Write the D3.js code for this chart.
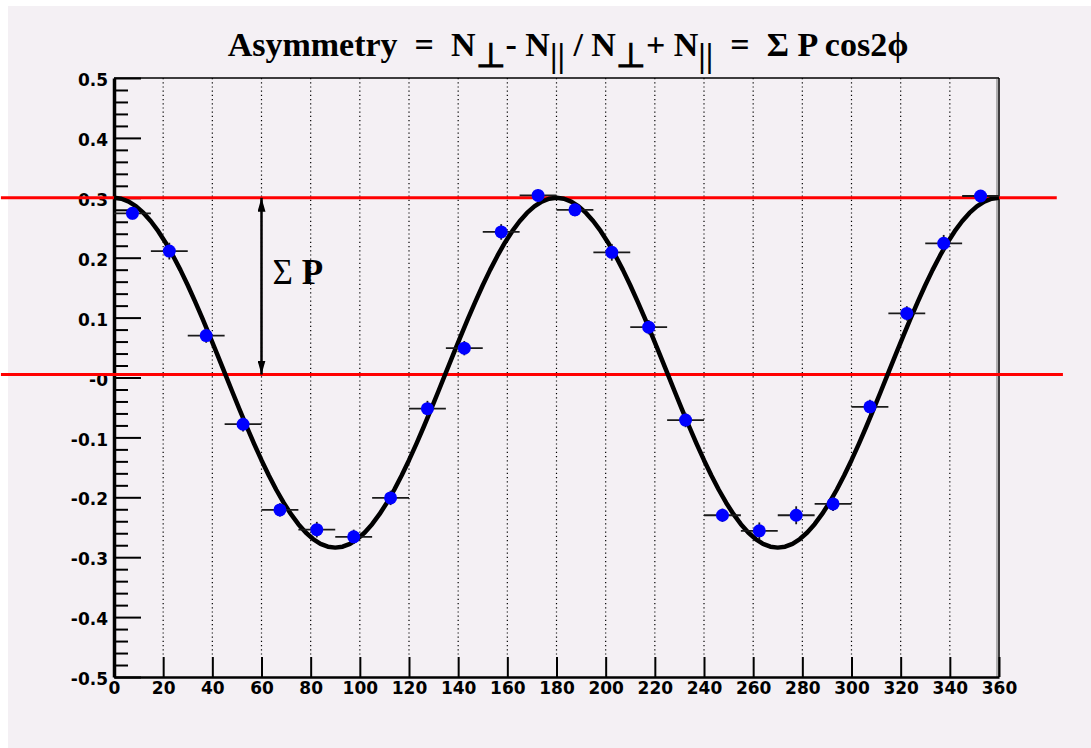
<!DOCTYPE html>
<html>
<head>
<meta charset="utf-8">
<script src="https://cdn.jsdelivr.net/npm/d3@7"></script>
<style>
  body { margin: 0; background: #fff; }
</style>
</head>
<body>
<div id="chart"></div>
<script>
var w = 1091;
var h = 748;

// *** data ***
var binCentres = [7.5, 22.5, 37.5, 52.5, 67.5, 82.5, 97.5, 112.5, 127.5, 142.5, 157.5, 172.5,
                  187.5, 202.5, 217.5, 232.5, 247.5, 262.5, 277.5, 292.5, 307.5, 322.5, 337.5, 352.5];
var asymmetry = [0.274, 0.211, 0.070, -0.078, -0.221, -0.254, -0.266, -0.201, -0.052, 0.049, 0.243, 0.304,
                 0.280, 0.209, 0.084, -0.071, -0.230, -0.256, -0.230, -0.211, -0.049, 0.107, 0.224, 0.303];
var asymErr = [0.010, 0.014, 0.012, 0.012, 0.011, 0.013, 0.012, 0.012, 0.013, 0.012, 0.013, 0.010,
               0.011, 0.014, 0.012, 0.012, 0.011, 0.014, 0.015, 0.012, 0.012, 0.012, 0.014, 0.010];
var binHalfWidth = 7.5;

var xTicks = [0, 20, 40, 60, 80, 100, 120, 140, 160, 180, 200, 220, 240, 260, 280, 300, 320, 340, 360];
var yTicks = [0.5, 0.4, 0.3, 0.2, 0.1, 0, -0.1, -0.2, -0.3, -0.4, -0.5];
var yTickLabels = ["0.5", "0.4", "0.3", "0.2", "0.1", "-0", "-0.1", "-0.2", "-0.3", "-0.4", "-0.5"];

// fit: offset + amplitude * cos(2 phi)
var fitOffset = 0.008, fitAmplitude = 0.292;

// red reference lines (level, x start, x end in degrees)
var refLevels = [0.3, 0.005];
var refFrom = [-46, -46];
var refTo = [383.5, 386];

// sigma P arrow
var arrowAt = 60, arrowTop = 0.3, arrowBottom = 0.005;
// **************************

var svg = d3.select("#chart")
    .append("svg")
    .attr("width", w)
    .attr("height", h);

svg.append("rect")
    .attr("x", 8).attr("y", 6)
    .attr("width", w - 8).attr("height", h - 6)
    .attr("fill", "#f4f0f4");

var margin = {top: 78, right: 92, bottom: 71, left: 114},
    width = w - margin.left - margin.right,
    height = h - margin.top - margin.bottom;

var x = d3.scaleLinear().domain([0, 360]).range([0, width]),
    y = d3.scaleLinear().domain([-0.5, 0.5]).range([height, 0]);

var g = svg.append("g")
    .attr("transform", "translate(" + margin.left + "," + margin.top + ")");

// arrow heads
var defs = svg.append("defs");
defs.append("marker")
    .attr("id", "head")
    .attr("viewBox", "0 0 14 8")
    .attr("refX", 14).attr("refY", 4)
    .attr("markerWidth", 14).attr("markerHeight", 8)
    .attr("markerUnits", "userSpaceOnUse")
    .attr("orient", "auto-start-reverse")
  .append("path")
    .attr("d", "M0,0 L14,4 L0,8 Z")
    .attr("fill", "#000");

// dotted vertical grid
g.selectAll(".grid")
  .data(xTicks.filter(function(d) { return d > 0 && d < 360; }))
  .enter().append("line")
    .attr("class", "grid")
    .attr("x1", function(d) { return x(d); })
    .attr("x2", function(d) { return x(d); })
    .attr("y1", 0)
    .attr("y2", height - 20)
    .attr("stroke", "#000")
    .attr("stroke-width", 1.2)
    .attr("stroke-dasharray", "1.2,3");

// frame top and right
g.append("line")
    .attr("x1", 0).attr("x2", width).attr("y1", 0).attr("y2", 0)
    .attr("stroke", "#000").attr("stroke-width", 1.5);
g.append("line")
    .attr("x1", width - 2).attr("x2", width - 2).attr("y1", 1).attr("y2", height)
    .attr("stroke", "#999").attr("stroke-width", 1.5);
g.append("line")
    .attr("x1", width).attr("x2", width).attr("y1", 0).attr("y2", height)
    .attr("stroke", "#000").attr("stroke-width", 1.5);

// x axis
var xAxis = g.append("g")
    .attr("class", "axis axis--x")
    .attr("transform", "translate(0," + height + ")")
    .call(d3.axisBottom(x).tickValues(xTicks).tickSizeInner(-20).tickSizeOuter(0).tickPadding(5));

// y axis: minor then major
g.append("g")
    .attr("class", "axis axis--y-minor")
    .call(d3.axisLeft(y)
      .tickValues(d3.range(-25, 26).map(function(i) { return i / 50; })
        .filter(function(v) { return Math.abs(Math.round(v * 10) - v * 10) > 1e-6; }))
      .tickSizeInner(-14).tickSizeOuter(0).tickFormat(""));

var yAxis = g.append("g")
    .attr("class", "axis axis--y")
    .call(d3.axisLeft(y).tickValues(yTicks).tickSizeInner(-27).tickSizeOuter(0).tickPadding(6)
      .tickFormat(function(d, i) { return yTickLabels[i]; }));

svg.selectAll(".axis text")
    .attr("fill", "#000")
    .style("font-family", "'DejaVu Sans', sans-serif")
    .style("font-weight", "bold")
    .style("font-size", "17px");
yAxis.selectAll("text").attr("dy", "0.45em");
svg.selectAll(".axis line").attr("stroke", "#000").attr("stroke-width", 2);
xAxis.select(".domain").attr("stroke", "#000").attr("stroke-width", 2.5);
yAxis.select(".domain").attr("stroke", "#000").attr("stroke-width", 3.5);
svg.selectAll(".axis--y-minor .domain").remove();

// red reference lines
g.selectAll(".ref")
  .data(refLevels)
  .enter().append("line")
    .attr("class", "ref")
    .attr("x1", function(d, i) { return x(refFrom[i]); })
    .attr("x2", function(d, i) { return x(refTo[i]); })
    .attr("y1", function(d) { return y(d); })
    .attr("y2", function(d) { return y(d); })
    .attr("stroke", "#ff0000")
    .attr("stroke-width", 3);

// fit curve
var curvePts = d3.range(0, 361, 3).map(function(p) {
  return [p, fitOffset + fitAmplitude * Math.cos(2 * p * Math.PI / 180)];
});
g.append("path")
    .datum(curvePts)
    .attr("fill", "none")
    .attr("stroke", "#000")
    .attr("stroke-width", 4.5)
    .attr("stroke-linejoin", "round")
    .attr("d", d3.line()
      .x(function(d) { return x(d[0]); })
      .y(function(d) { return y(d[1]); }));

// error bars
var pts = binCentres.map(function(c, i) { return {phi: c, val: asymmetry[i], err: asymErr[i]}; });
var eb = g.selectAll(".err").data(pts).enter().append("g").attr("class", "err");
eb.append("line")
    .attr("x1", function(d) { return x(d.phi - binHalfWidth); })
    .attr("x2", function(d) { return x(d.phi + binHalfWidth); })
    .attr("y1", function(d) { return y(d.val); })
    .attr("y2", function(d) { return y(d.val); })
    .attr("stroke", "#1a1a1a").attr("stroke-width", 1.8);
eb.append("line")
    .attr("x1", function(d) { return x(d.phi); })
    .attr("x2", function(d) { return x(d.phi); })
    .attr("y1", function(d) { return y(d.val - d.err); })
    .attr("y2", function(d) { return y(d.val + d.err); })
    .attr("stroke", "#1a1a1a").attr("stroke-width", 1.8);

// points
g.selectAll(".dot")
  .data(pts)
  .enter().append("circle")
    .attr("class", "dot")
    .attr("cx", function(d) { return x(d.phi); })
    .attr("cy", function(d) { return y(d.val); })
    .attr("r", 6.5)
    .attr("fill", "#0000ff");

// sigma P arrow
g.append("line")
    .attr("x1", x(arrowAt)).attr("x2", x(arrowAt))
    .attr("y1", y(arrowBottom)).attr("y2", y(arrowTop))
    .attr("stroke", "#000").attr("stroke-width", 2.5)
    .attr("marker-start", "url(#head)")
    .attr("marker-end", "url(#head)");

var sp = g.append("text")
    .attr("x", x(arrowAt) + 11)
    .attr("y", y((arrowTop + arrowBottom) / 2) - 2)
    .style("font-family", "'Liberation Serif', 'Times New Roman', serif")
    .style("font-size", "35px")
    .attr("fill", "#000");
sp.append("tspan").text("\u03A3 ");
sp.append("tspan").style("font-weight", "bold").text("P");

// title
var title = svg.append("text")
    .attr("x", 568)
    .attr("y", 56)
    .attr("text-anchor", "middle")
    .style("font-family", "'Liberation Serif', 'Times New Roman', serif")
    .style("font-weight", "bold")
    .style("font-size", "34px")
    .attr("fill", "#000");
var parts = [
  ["Asymmetry  =  N", 0], ["\u22A5", 11], ["- N", -11], ["||", 11], [" / N", -11], ["\u22A5", 11],
  ["+ N", -11], ["||", 11], ["  =  \u03A3 P cos2\u03D5", -11]
];
parts.forEach(function(p) {
  title.append("tspan")
      .attr("dy", p[1])
      .style("white-space", "pre")
      .text(p[0]);
});
</script>
</body>
</html>
